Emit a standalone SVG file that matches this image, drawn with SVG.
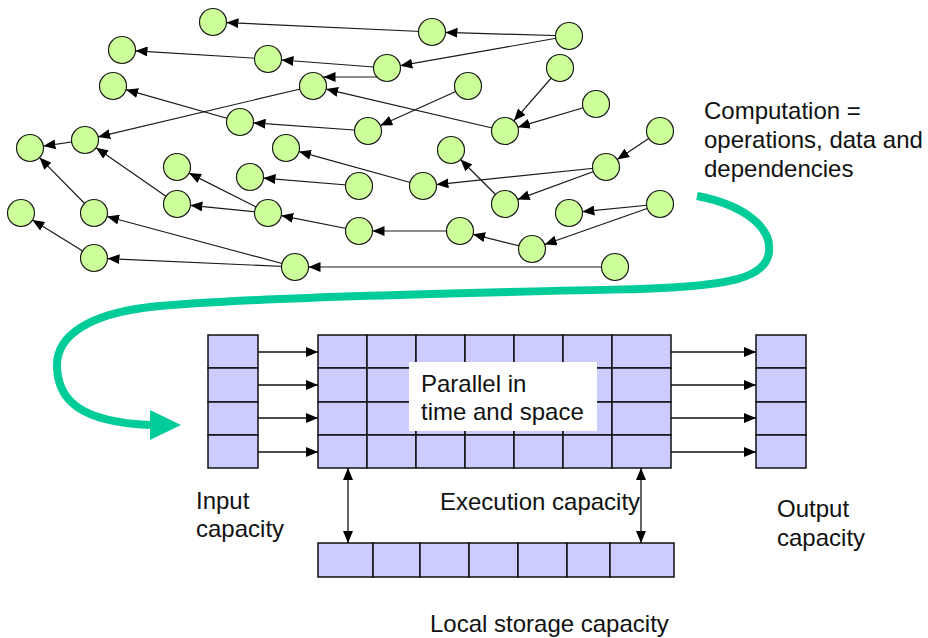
<svg xmlns="http://www.w3.org/2000/svg" width="928" height="638" viewBox="0 0 928 638">
  <style>
    .node { fill: #ccff99; stroke: #1a1a1a; stroke-width: 1.2; }
    .edge { stroke: #1a1a1a; stroke-width: 1.2; fill: none; marker-end: url(#arrow); }
    .cell { fill: #ccccff; stroke: #111; stroke-width: 1.5; }
    .link { stroke: #111; stroke-width: 1.3; fill: none; marker-end: url(#arrow); }
    .dbl { stroke: #111; stroke-width: 1.3; fill: none; marker-start: url(#arrowStart); marker-end: url(#arrow); }
    .label { font-family: "Liberation Sans", Arial, sans-serif; font-size: 24px; fill: #111; }
    .flow { stroke: #00cc99; stroke-width: 8; fill: none; }
  </style>
  <defs>
    <marker id="arrow" viewBox="0 0 12 10" refX="12" refY="5" markerWidth="12" markerHeight="10" markerUnits="userSpaceOnUse" orient="auto">
      <path d="M0,0 L12,5 L0,10 z" fill="#000"/>
    </marker>
    <marker id="arrowStart" viewBox="0 0 12 10" refX="0" refY="5" markerWidth="12" markerHeight="10" markerUnits="userSpaceOnUse" orient="auto">
      <path d="M12,0 L0,5 L12,10 z" fill="#000"/>
    </marker>
  </defs>

  <!-- dependency edges of the computation graph -->
  <g id="connectors">
    <line class="edge" x1="569" y1="36" x2="445.5" y2="32.4"/>
    <line class="edge" x1="432" y1="32" x2="226.5" y2="22.6"/>
    <line class="edge" x1="569" y1="36" x2="400.3" y2="65.7"/>
    <line class="edge" x1="387" y1="68" x2="281.5" y2="60.0"/>
    <line class="edge" x1="268" y1="59" x2="135.5" y2="50.8"/>
    <line class="edge" x1="313" y1="86" x2="98.1" y2="136.9"/>
    <line class="edge" x1="240" y1="122" x2="126.0" y2="89.7"/>
    <line class="edge" x1="368" y1="131" x2="253.5" y2="122.9"/>
    <line class="edge" x1="505" y1="131" x2="326.1" y2="89.1"/>
    <line class="edge" x1="377" y1="77" x2="323.5" y2="77"/>
    <line class="edge" x1="468" y1="86" x2="380.3" y2="125.5"/>
    <line class="edge" x1="560" y1="68" x2="513.9" y2="120.8"/>
    <line class="edge" x1="596" y1="104" x2="517.9" y2="127.2"/>
    <line class="edge" x1="660" y1="131" x2="617.2" y2="159.5"/>
    <line class="edge" x1="85" y1="140" x2="43.4" y2="146.1"/>
    <line class="edge" x1="423" y1="186" x2="299.0" y2="151.6"/>
    <line class="edge" x1="94" y1="213" x2="39.5" y2="157.6"/>
    <line class="edge" x1="177" y1="204" x2="96.1" y2="147.7"/>
    <line class="edge" x1="268" y1="213" x2="189.0" y2="173.1"/>
    <line class="edge" x1="268" y1="213" x2="190.4" y2="205.3"/>
    <line class="edge" x1="359" y1="186" x2="263.5" y2="178.1"/>
    <line class="edge" x1="359" y1="231" x2="281.2" y2="215.6"/>
    <line class="edge" x1="295" y1="267" x2="107.0" y2="216.5"/>
    <line class="edge" x1="295" y1="267" x2="107.5" y2="258.6"/>
    <line class="edge" x1="94" y1="258" x2="32.5" y2="220.1"/>
    <line class="edge" x1="615" y1="267" x2="308.5" y2="267"/>
    <line class="edge" x1="606" y1="167" x2="436.4" y2="184.6"/>
    <line class="edge" x1="606" y1="167" x2="517.7" y2="199.4"/>
    <line class="edge" x1="505" y1="204" x2="460.5" y2="159.5"/>
    <line class="edge" x1="660" y1="204" x2="582.4" y2="211.7"/>
    <line class="edge" x1="660" y1="204" x2="544.7" y2="244.5"/>
    <line class="edge" x1="532" y1="249" x2="473.1" y2="234.3"/>
    <line class="edge" x1="460" y1="231" x2="372.5" y2="231"/>

    <!-- input / output transfers -->
    <line class="link" x1="258" y1="352" x2="318" y2="352"/>
    <line class="link" x1="258" y1="385" x2="318" y2="385"/>
    <line class="link" x1="258" y1="418" x2="318" y2="418"/>
    <line class="link" x1="258" y1="452" x2="318" y2="452"/>
    <line class="link" x1="671" y1="352" x2="756" y2="352"/>
    <line class="link" x1="671" y1="385" x2="756" y2="385"/>
    <line class="link" x1="671" y1="418" x2="756" y2="418"/>
    <line class="link" x1="671" y1="452" x2="756" y2="452"/>

    <!-- execution <-> local storage -->
    <line class="dbl" x1="348" y1="468" x2="348" y2="543"/>
    <line class="dbl" x1="641" y1="468" x2="641" y2="543"/>

    <!-- mapping of the computation onto the machine -->
    <path class="flow" d="M697,196 C745,205 772,228 769,252 C766,278 730,286 640,289 C500,292 250,297 150,307 C90,314 57,335 57,365 C57,400 80,422 150,425"/>
    <path d="M150,410 L181,425 L150,440 z" fill="#00cc99"/>
  </g>

  <!-- computation graph nodes -->
  <g id="nodes">
    <circle id="n-a" class="node" cx="213" cy="22" r="13.5"/>
    <circle id="n-j" class="node" cx="432" cy="32" r="13.5"/>
    <circle id="n-k" class="node" cx="569" cy="36" r="13.5"/>
    <circle id="n-b" class="node" cx="122" cy="50" r="13.5"/>
    <circle id="n-c" class="node" cx="268" cy="59" r="13.5"/>
    <circle id="n-l" class="node" cx="387" cy="68" r="13.5"/>
    <circle id="n-n" class="node" cx="560" cy="68" r="13.5"/>
    <circle id="n-d" class="node" cx="113" cy="86" r="13.5"/>
    <circle id="n-e" class="node" cx="313" cy="86" r="13.5"/>
    <circle id="n-m" class="node" cx="468" cy="86" r="13.5"/>
    <circle id="n-o" class="node" cx="596" cy="104" r="13.5"/>
    <circle id="n-f" class="node" cx="240" cy="122" r="13.5"/>
    <circle id="n-p" class="node" cx="368" cy="131" r="13.5"/>
    <circle id="n-q" class="node" cx="505" cy="131" r="13.5"/>
    <circle id="n-r" class="node" cx="660" cy="131" r="13.5"/>
    <circle id="n-g" class="node" cx="85" cy="140" r="13.5"/>
    <circle id="n-h" class="node" cx="30" cy="148" r="13.5"/>
    <circle id="n-i" class="node" cx="286" cy="148" r="13.5"/>
    <circle id="n-s" class="node" cx="451" cy="150" r="13.5"/>
    <circle id="n-t" class="node" cx="177" cy="167" r="13.5"/>
    <circle id="n-ab" class="node" cx="606" cy="167" r="13.5"/>
    <circle id="n-u" class="node" cx="250" cy="177" r="13.5"/>
    <circle id="n-ac" class="node" cx="359" cy="186" r="13.5"/>
    <circle id="n-ad" class="node" cx="423" cy="186" r="13.5"/>
    <circle id="n-v" class="node" cx="177" cy="204" r="13.5"/>
    <circle id="n-ae" class="node" cx="505" cy="204" r="13.5"/>
    <circle id="n-ag" class="node" cx="660" cy="204" r="13.5"/>
    <circle id="n-x" class="node" cx="21" cy="213" r="13.5"/>
    <circle id="n-y" class="node" cx="94" cy="213" r="13.5"/>
    <circle id="n-w" class="node" cx="268" cy="213" r="13.5"/>
    <circle id="n-af" class="node" cx="569" cy="213" r="13.5"/>
    <circle id="n-ah" class="node" cx="359" cy="231" r="13.5"/>
    <circle id="n-ai" class="node" cx="460" cy="231" r="13.5"/>
    <circle id="n-aj" class="node" cx="532" cy="249" r="13.5"/>
    <circle id="n-z" class="node" cx="94" cy="258" r="13.5"/>
    <circle id="n-aa" class="node" cx="295" cy="267" r="13.5"/>
    <circle id="n-ak" class="node" cx="615" cy="267" r="13.5"/>
  </g>

  <g id="computation-label" class="label">
    <text x="704" y="119">Computation =</text>
    <text x="704" y="148">operations, data and</text>
    <text x="704" y="177">dependencies</text>
  </g>

  <!-- input buffer -->
  <g id="input">
    <rect class="cell" x="208" y="335" width="50" height="33"/>
    <rect class="cell" x="208" y="368" width="50" height="34"/>
    <rect class="cell" x="208" y="402" width="50" height="33"/>
    <rect class="cell" x="208" y="435" width="50" height="33"/>
    <text class="label" x="196" y="509">Input</text>
    <text class="label" x="196" y="537">capacity</text>
  </g>

  <!-- execution array -->
  <g id="execution">
    <g transform="translate(0,335)">
      <rect class="cell" x="318" y="0" width="49" height="33"/>
      <rect class="cell" x="367" y="0" width="49" height="33"/>
      <rect class="cell" x="416" y="0" width="49" height="33"/>
      <rect class="cell" x="465" y="0" width="49" height="33"/>
      <rect class="cell" x="514" y="0" width="49" height="33"/>
      <rect class="cell" x="563" y="0" width="49" height="33"/>
      <rect class="cell" x="612" y="0" width="59" height="33"/>
    </g>
    <g transform="translate(0,368)">
      <rect class="cell" x="318" y="0" width="49" height="34"/>
      <rect class="cell" x="367" y="0" width="49" height="34"/>
      <rect class="cell" x="416" y="0" width="49" height="34"/>
      <rect class="cell" x="465" y="0" width="49" height="34"/>
      <rect class="cell" x="514" y="0" width="49" height="34"/>
      <rect class="cell" x="563" y="0" width="49" height="34"/>
      <rect class="cell" x="612" y="0" width="59" height="34"/>
    </g>
    <g transform="translate(0,402)">
      <rect class="cell" x="318" y="0" width="49" height="33"/>
      <rect class="cell" x="367" y="0" width="49" height="33"/>
      <rect class="cell" x="416" y="0" width="49" height="33"/>
      <rect class="cell" x="465" y="0" width="49" height="33"/>
      <rect class="cell" x="514" y="0" width="49" height="33"/>
      <rect class="cell" x="563" y="0" width="49" height="33"/>
      <rect class="cell" x="612" y="0" width="59" height="33"/>
    </g>
    <g transform="translate(0,435)">
      <rect class="cell" x="318" y="0" width="49" height="33"/>
      <rect class="cell" x="367" y="0" width="49" height="33"/>
      <rect class="cell" x="416" y="0" width="49" height="33"/>
      <rect class="cell" x="465" y="0" width="49" height="33"/>
      <rect class="cell" x="514" y="0" width="49" height="33"/>
      <rect class="cell" x="563" y="0" width="49" height="33"/>
      <rect class="cell" x="612" y="0" width="59" height="33"/>
    </g>
    <rect x="409" y="362" width="188" height="69" fill="#fff"/>
    <text class="label" x="421" y="392">Parallel in</text>
    <text class="label" x="421" y="419.5">time and space</text>
    <text class="label" x="440" y="510">Execution capacity</text>
  </g>

  <!-- output buffer -->
  <g id="output">
    <rect class="cell" x="756" y="335" width="50" height="33"/>
    <rect class="cell" x="756" y="368" width="50" height="34"/>
    <rect class="cell" x="756" y="402" width="50" height="33"/>
    <rect class="cell" x="756" y="435" width="50" height="33"/>
    <text class="label" x="777" y="517">Output</text>
    <text class="label" x="777" y="546">capacity</text>
  </g>

  <!-- local storage -->
  <g id="storage">
    <rect class="cell" x="318" y="543" width="55" height="34"/>
    <rect class="cell" x="373" y="543" width="47" height="34"/>
    <rect class="cell" x="420" y="543" width="49" height="34"/>
    <rect class="cell" x="469" y="543" width="49" height="34"/>
    <rect class="cell" x="518" y="543" width="49" height="34"/>
    <rect class="cell" x="567" y="543" width="43" height="34"/>
    <rect class="cell" x="610" y="543" width="64" height="34"/>
    <text class="label" x="430" y="632">Local storage capacity</text>
  </g>
</svg>
